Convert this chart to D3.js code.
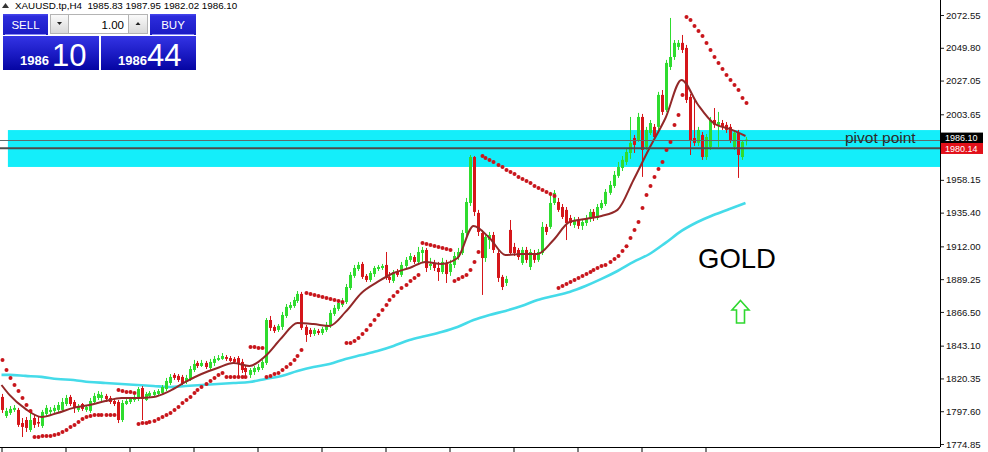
<!DOCTYPE html>
<html><head><meta charset="utf-8">
<script src="https://cdn.jsdelivr.net/npm/d3@7"></script>
<style>html,body{margin:0;padding:0;background:#fff;}svg{display:block;}</style>
</head><body>
<svg id="c" width="988" height="452"></svg>
<script>
// ---------- DATA ----------
const symbolTitle = "XAUUSD.tp,H4";
const lastOHLC = [1985.83, 1987.95, 1982.02, 1986.10];
const opens = [1807.5,1794.3,1796.4,1798.5,1798.5,1789.4,1791.5,1784.6,1792.9,1790.1,
1787.4,1795.7,1797.1,1797.8,1798.5,1798.5,1802.6,1807.5,1804.0,1798.5,
1802.6,1798.5,1797.8,1804.0,1806.8,1806.8,1808.2,1806.8,1804.7,1804.0,
1791.5,1802.6,1804.0,1805.4,1806.1,1813.7,1805.4,1808.2,1808.9,1809.6,
1810.3,1813.0,1817.2,1822.8,1822.1,1821.4,1817.9,1820.0,1826.2,1831.1,
1829.0,1831.1,1827.6,1831.1,1833.2,1833.9,1835.2,1834.5,1833.9,1834.5,
1831.8,1827.6,1822.8,1824.8,1826.2,1827.6,1831.1,1860.9,1856.1,1854.0,
1856.1,1863.7,1869.3,1870.6,1874.1,1879.0,1856.1,1854.0,1851.2,1853.3,
1851.9,1854.0,1856.8,1865.1,1868.6,1871.3,1873.4,1883.1,1891.5,1896.3,
1899.8,1891.5,1888.7,1892.8,1896.3,1897.0,1899.1,1890.8,1888.0,1894.2,
1892.2,1898.4,1902.6,1904.6,1901.2,1907.4,1909.5,1898.4,1899.8,1897.0,
1894.2,1900.5,1894.2,1899.1,1904.6,1907.4,1921.3,1942.1,1974.0,1935.2,
1921.3,1903.9,1916.4,1919.9,1907.4,1890.8,1886.6,1923.4,1911.6,1909.5,
1900.5,1909.5,1897.7,1907.4,1902.6,1907.4,1925.5,1925.5,1942.1,1942.8,
1939.3,1937.3,1931.7,1926.9,1930.3,1926.2,1928.2,1931.0,1935.9,1931.7,
1938.6,1941.4,1949.1,1953.9,1960.9,1966.4,1970.6,1976.8,1987.2,1985.8,
2001.8,1981.0,1990.7,1994.9,1994.9,2017.1,2006.7,2036.5,2043.4,2050.4,
2053.2,2049.7,2015.7,1987.2,1983.8,1989.3,1974.0,1981.0,1999.7,1996.3,
1997.6,1996.3,1994.9,1981.0,1990.7,1974.0,1985.83];
const highs = [1809.6,1799.9,1801.2,1801.9,1799.9,1792.9,1793.6,1797.1,1795.0,1794.3,
1798.5,1801.9,1800.5,1801.9,1804.0,1806.8,1808.9,1808.9,1805.4,1802.6,
1803.3,1801.9,1806.8,1810.3,1811.6,1811.0,1809.6,1808.2,1806.1,1805.4,
1805.4,1806.8,1807.5,1808.9,1814.4,1815.1,1811.0,1811.6,1812.3,1813.0,
1815.8,1820.7,1823.4,1824.1,1823.4,1822.8,1822.8,1829.0,1833.2,1832.5,
1833.2,1832.5,1833.9,1835.9,1836.6,1838.0,1836.6,1835.9,1835.2,1835.9,
1833.9,1829.0,1827.6,1829.0,1830.4,1833.2,1862.3,1863.7,1857.5,1858.1,
1866.5,1872.0,1873.4,1876.9,1881.0,1880.4,1857.5,1855.4,1855.4,1854.7,
1856.1,1859.5,1867.9,1871.3,1874.8,1876.2,1885.9,1894.2,1899.1,1901.2,
1901.2,1892.8,1894.9,1898.4,1899.1,1899.8,1908.1,1894.2,1895.6,1896.3,
1901.2,1904.6,1907.4,1906.0,1911.6,1911.6,1910.9,1904.0,1902.6,1901.2,
1904.0,1902.6,1902.6,1908.1,1910.9,1923.4,1945.6,1975.4,1974.7,1937.3,
1923.4,1920.6,1922.0,1922.0,1909.5,1892.2,1891.5,1930.3,1914.4,1910.9,
1911.6,1911.6,1910.2,1909.5,1910.2,1928.9,1927.5,1949.8,1951.1,1945.6,
1941.4,1939.3,1933.8,1932.4,1932.4,1931.0,1933.8,1937.9,1937.9,1941.4,
1944.2,1951.8,1957.4,1964.3,1970.6,1974.7,1980.3,2001.8,1989.3,2004.6,
2003.9,1994.9,1999.7,1996.9,2019.2,2020.5,2041.4,2070.5,2055.2,2055.2,
2058.7,2051.8,2017.8,2013.6,1994.9,1991.4,1990.0,2001.8,2008.0,2005.3,
1999.7,1998.3,1996.9,1992.8,1992.8,1985.8,1987.95];
const lows = [1796.4,1792.9,1795.0,1797.1,1786.7,1779.7,1783.2,1783.2,1786.0,1786.7,
1786.0,1794.3,1795.0,1796.4,1797.1,1797.8,1801.2,1801.2,1796.4,1797.1,
1797.8,1797.1,1796.4,1802.6,1805.4,1804.7,1804.0,1802.6,1801.2,1789.4,
1790.1,1801.9,1802.6,1804.0,1804.7,1791.5,1804.7,1806.8,1807.5,1808.2,
1808.9,1811.6,1815.8,1819.3,1817.9,1815.8,1816.5,1818.6,1824.8,1827.6,
1828.3,1826.9,1826.2,1829.0,1832.5,1833.2,1832.5,1831.8,1831.1,1820.7,
1824.1,1822.1,1820.7,1822.8,1824.8,1826.2,1829.7,1853.3,1851.9,1852.6,
1854.0,1862.3,1867.9,1869.3,1872.7,1854.0,1845.7,1849.1,1849.8,1850.5,
1850.5,1852.6,1855.4,1863.7,1867.2,1869.9,1872.0,1881.7,1890.1,1894.9,
1889.4,1887.3,1887.3,1890.8,1894.9,1895.6,1888.7,1886.6,1886.6,1890.8,
1890.8,1897.0,1901.2,1899.8,1899.8,1901.2,1894.2,1895.6,1894.9,1888.0,
1892.8,1886.6,1891.5,1897.0,1902.6,1906.0,1919.2,1940.0,1933.1,1919.2,
1878.3,1901.2,1910.2,1907.4,1887.3,1881.7,1884.5,1906.0,1905.3,1902.6,
1899.1,1900.5,1895.6,1900.5,1901.2,1906.0,1919.9,1924.1,1940.7,1935.9,
1931.0,1916.4,1926.2,1924.8,1924.1,1923.4,1926.2,1928.9,1929.6,1930.3,
1937.3,1940.0,1947.7,1952.5,1959.5,1964.3,1968.5,1972.7,1976.8,1984.5,
1960.2,1978.9,1989.3,1985.8,1992.8,2003.2,2005.3,2034.4,2041.4,2048.3,
2046.2,2011.5,1975.4,1981.7,1981.7,1972.0,1972.0,1978.9,1994.2,1981.0,
1992.8,1990.7,1983.8,1978.9,1959.5,1972.0,1982.02];
const closes = [1798.5,1797.8,1799.2,1799.9,1788.1,1786.7,1786.0,1791.5,1788.1,1789.4,
1797.1,1799.9,1798.5,1799.9,1801.9,1804.0,1806.8,1802.6,1799.9,1801.2,
1799.2,1800.5,1804.7,1808.2,1809.6,1808.9,1806.1,1804.0,1802.6,1791.5,
1803.3,1804.7,1806.1,1807.5,1813.0,1806.1,1809.6,1810.3,1811.0,1811.6,
1814.4,1818.6,1821.4,1820.7,1819.3,1817.2,1820.7,1826.9,1830.4,1829.0,
1831.1,1828.3,1831.8,1833.9,1834.5,1835.9,1833.9,1832.5,1831.8,1830.4,
1826.2,1824.8,1826.2,1827.6,1828.3,1831.8,1860.9,1855.4,1853.3,1856.8,
1864.4,1870.0,1871.3,1874.8,1879.0,1855.4,1850.5,1851.2,1854.0,1851.9,
1854.7,1857.5,1865.8,1869.3,1872.7,1874.1,1883.8,1892.2,1897.0,1899.1,
1890.8,1888.7,1893.5,1897.0,1897.7,1898.4,1890.1,1888.7,1894.2,1892.2,
1899.1,1902.6,1905.3,1901.2,1908.1,1909.5,1897.0,1899.8,1897.0,1894.2,
1901.2,1892.8,1899.8,1905.3,1908.1,1921.3,1942.8,1974.0,1935.9,1922.0,
1903.9,1918.5,1919.9,1909.5,1890.1,1883.8,1889.4,1907.4,1907.4,1904.6,
1909.5,1902.6,1908.1,1902.6,1908.1,1925.5,1922.0,1942.1,1949.1,1937.3,
1932.4,1928.2,1928.2,1930.3,1926.2,1928.9,1931.7,1935.9,1931.7,1939.3,
1942.1,1949.8,1954.6,1961.6,1967.1,1972.0,1977.5,1983.8,1982.4,2001.8,
1978.9,1992.8,1997.6,1987.9,2017.1,2005.3,2039.3,2043.4,2053.2,2053.2,
2048.3,2013.6,1985.8,1983.8,1992.8,1974.0,1987.9,1999.7,1996.3,1998.3,
1994.9,1992.8,1985.8,1990.7,1975.4,1984.5,1986.10];
// Parabolic SAR, one value per bar
const sar = [1833.2,1826.2,1820.7,1815.8,1811.6,1806.8,1801.9,1797.8,
1779.7,1779.7,1780.4,1780.4,1780.4,1781.1,1781.8,1783.2,1784.6,1786.7,1788.1,1790.1,1792.2,1793.6,1794.3,1795.0,1795.0,1795.0,1795.0,1795.0,1795.0,
1812.3,1811.6,1810.9,1810.9,1810.3,
1788.7,1789.4,1789.4,1790.1,1790.8,1792.2,1793.6,1795.0,1796.4,1798.5,1800.5,1803.3,1805.4,1807.5,1810.3,1812.3,1814.4,1816.5,1818.6,1820.7,1822.8,1824.1,
1821.4,1821.4,1821.4,1821.4,1821.4,1821.4,
1842.2,1842.2,1841.5,1841.5,
1821.4,1822.1,1823.4,1824.1,1826.2,1828.3,1830.4,1833.2,1835.9,1840.1,
1879.7,1879.0,1878.3,1877.6,1876.9,1876.2,1875.5,1874.8,1874.1,1873.4,
1845.0,1845.0,1846.3,1848.4,1851.2,1854.0,1857.5,1860.9,1864.4,1867.9,1871.3,1874.8,1877.6,1880.4,1883.1,1885.2,1888.0,1890.1,1892.2,
1914.4,1913.7,1913.0,1912.3,1911.6,1910.9,1910.2,1909.5,
1888.0,1889.4,1890.8,1892.2,1895.6,1901.2,1908.1,
1974.7,1973.3,1972.0,1970.6,1968.5,1967.1,1965.0,1963.6,1962.2,1960.2,1958.8,1957.4,1956.0,1953.9,1952.5,1951.1,1949.8,1948.4,1947.0,
1883.1,1884.5,1885.9,1887.3,1888.7,1890.1,1891.5,1892.8,1894.2,1895.6,1897.0,1898.4,1899.1,1901.2,1903.3,1905.3,1908.8,1912.0,1917.8,1923.4,1928.9,1938.6,1947.7,1953.9,1960.2,1965.7,1970.6,1978.9,1984.5,1996.3,2003.2,2017.1,
2071.2,2069.1,2065.0,2061.5,2058.0,2053.2,2048.3,2043.4,2039.3,2035.1,2031.0,2027.5,2024.0,2020.5,2015.0,2011.5];
// moving averages sampled at these bars
const maBars = [0,2,6,10,14,18,22,26,30,34,38,42,46,50,54,58,62,66,70,74,78,82,86,90,94,98,102,106,110,114,118,122,126,130,134,138,142,146,150,154,158,162,166,170,174,178,182,186];
const maFast = [1815.8,1808.9,1799.2,1793.6,1796.4,1799.9,1801.9,1804.7,1806.8,1806.8,1807.5,1811.6,1817.9,1823.4,1827.6,1831.1,1829.0,1835.9,1848.4,1858.8,1858.1,1856.8,1866.5,1879.7,1887.3,1893.5,1897.0,1901.2,1899.8,1903.9,1926.2,1917.8,1906.0,1906.7,1906.7,1916.4,1928.9,1931.0,1933.1,1937.3,1958.1,1980.3,2001.1,2027.5,2010.8,1997.6,1993.5,1988.6];
const maSlow = [1822.8,1822.8,1822.1,1821.4,1820.0,1819.3,1817.9,1817.2,1816.5,1815.8,1815.1,1814.4,1815.1,1815.8,1816.5,1817.2,1817.9,1820.0,1822.1,1825.5,1828.3,1830.4,1833.9,1836.6,1839.4,1842.9,1847.0,1849.8,1852.6,1856.1,1860.9,1864.4,1867.2,1870.6,1874.8,1877.6,1880.4,1884.5,1889.4,1894.9,1901.2,1906.7,1914.4,1922.7,1928.9,1933.8,1937.9,1942.1];
const priceTicks = [2072.55,2049.80,2027.05,2003.65,1958.15,1935.40,1912.00,1889.25,1866.50,1843.10,1820.35,1797.60,1774.85];
const timeTickBars = [0,16,32,48,64,80,96,112,128,144,160,176];
const pivotPrice = 1980.14;
const bidPrice = 1986.10;
const zoneTop = 1992.7, zoneBottom = 1967.1, zoneStartBar = 1.6;
const sellPrice = ["1986","10"], buyPrice = ["1986","44"], lotSize = "1.00";

// ---------- SCALES ----------
const svg = d3.select('#c');
const PR = 940, PB = 447;
const ff = 'Liberation Sans, Arial, sans-serif';
const x = d3.scaleLinear().domain([0, opens.length - 1]).range([1.5, 745.5]);
const y = d3.scaleLinear().domain([1774.85, 2072.55]).range([444, 15]);
const defs = svg.append('defs');
defs.append('clipPath').attr('id','plot').append('rect').attr('x',0).attr('y',0).attr('width',PR).attr('height',PB);
function grad(id, stops){const g=defs.append('linearGradient').attr('id',id).attr('x1',0).attr('y1',0).attr('x2',0).attr('y2',1);stops.forEach(([o,c])=>g.append('stop').attr('offset',o).attr('stop-color',c));}
grad('btnBlue',[[0,'#4848ee'],[0.12,'#2c2cdc'],[1,'#1a1ac4']]);
grad('boxBlue',[[0,'#3434e4'],[0.5,'#1c1cc6'],[1,'#0505a2']]);
grad('greyBtn',[[0,'#fbfbfb'],[1,'#d8d8d8']]);

const plot = svg.append('g').attr('clip-path','url(#plot)');
// zone
plot.append('rect').attr('x', x(zoneStartBar)).attr('y', y(zoneTop))
  .attr('width', PR - x(zoneStartBar)).attr('height', y(zoneBottom) - y(zoneTop)).attr('fill','#14eefa');

// slow moving average
const bars = opens.map((o,i)=>({i,o,h:highs[i],l:lows[i],c:closes[i],s:sar[i]}));
const maLine = d3.line().x((d,k)=>x(maBars[k])).y(d=>y(d)).curve(d3.curveMonotoneX);
plot.append('path').attr('d', maLine(maSlow)).attr('fill','none').attr('stroke','#45dbe9').attr('stroke-width',2.6);

// candles
const cg = plot.append('g');
bars.forEach(d=>{
  const cx = Math.round(x(d.i));
  const up = d.c >= d.o;
  const col = up ? '#2fdc2f' : '#d5161a';
  cg.append('rect').attr('x',cx).attr('width',1).attr('y',y(d.h)).attr('height',Math.max(1,y(d.l)-y(d.h))).attr('fill',col);
  const top = y(Math.max(d.o,d.c)), bot = y(Math.min(d.o,d.c));
  cg.append('rect').attr('x',cx-1).attr('width',3).attr('y',top).attr('height',Math.max(1.5,bot-top)).attr('fill',col);
});
// fast moving average
plot.append('path').attr('d', maLine(maFast)).attr('fill','none').attr('stroke','#922828').attr('stroke-width',2);

// horizontal lines
plot.append('line').attr('x1',0).attr('x2',PR).attr('y1',Math.round(y(bidPrice))+0.5).attr('y2',Math.round(y(bidPrice))+0.5).attr('stroke','#5f6b6b').attr('stroke-width',1);
plot.append('line').attr('x1',0).attr('x2',PR).attr('y1',y(pivotPrice)).attr('y2',y(pivotPrice)).attr('stroke','#4c4c4c').attr('stroke-width',2);

// SAR
plot.append('g').selectAll('circle').data(bars).join('circle')
  .attr('cx',d=>Math.round(x(d.i))+0.5).attr('cy',d=>y(d.s)).attr('r',2).attr('fill','#c8161c');

// text objects
plot.append('text').attr('x',845).attr('y',143).text('pivot point')
  .attr('font-family',ff).attr('font-size',15.5).attr('fill','#2a2a2a');
plot.append('text').attr('x',698).attr('y',268).text('GOLD')
  .attr('font-family',ff).attr('font-size',27.5).attr('fill','#000');
plot.append('path').attr('d','M740.5,300.5 L749,310 L744.5,310 L744.5,323 L736.5,323 L736.5,310 L732,310 Z')
  .attr('fill','#fff').attr('stroke','#2fd82f').attr('stroke-width',1.6);

// ---------- AXES ----------
const yAxis = d3.axisRight(y).tickValues(priceTicks).tickFormat(d3.format('.2f')).tickSize(4).tickPadding(2);
const ya = svg.append('g').attr('transform',`translate(${PR},0)`).call(yAxis);
ya.select('.domain').remove();
ya.selectAll('text').attr('font-family',ff).attr('font-size',9.6).attr('fill','#111');
ya.selectAll('line').attr('stroke','#222');
svg.append('line').attr('x1',PR+0.5).attr('x2',PR+0.5).attr('y1',0).attr('y2',PB).attr('stroke','#000');

const xAxis = d3.axisBottom(x).tickValues(timeTickBars).tickFormat('').tickSize(5);
const xa = svg.append('g').attr('transform',`translate(0,${PB})`).call(xAxis);
xa.select('.domain').remove();
xa.selectAll('line').attr('stroke','#000');
svg.append('line').attr('x1',0).attr('x2',PR).attr('y1',PB+0.5).attr('y2',PB+0.5).attr('stroke','#000');

// price labels (bid label partly covered by the pivot label, as in the terminal)
function priceLabel(p, bg, cy){
  svg.append('rect').attr('x',PR+1).attr('y',cy-5.5).attr('width',42).attr('height',11).attr('fill',bg);
  svg.append('text').attr('x',PR+5).attr('y',cy+3.2).text(d3.format('.2f')(p))
    .attr('font-family',ff).attr('font-size',9).attr('fill','#fff');
}
priceLabel(bidPrice,'#000', y(bidPrice)-1.5);
priceLabel(pivotPrice,'#e2101a', y(pivotPrice)+0.3);

// ---------- TITLE ----------
svg.append('path').attr('d','M2,8 L5.5,3 L9,8 Z').attr('fill','#333');
svg.append('text').attr('x',15).attr('y',9).style('white-space','pre')
  .text(symbolTitle + '  ' + lastOHLC.map(d3.format('.2f')).join(' '))
  .attr('font-family',ff).attr('font-size',9.8).attr('fill','#000');

// ---------- ONE CLICK PANEL ----------
const pn = svg.append('g');
pn.append('rect').attr('x',3).attr('y',14).attr('width',45).attr('height',21).attr('fill','url(#btnBlue)');
pn.append('rect').attr('x',150).attr('y',14).attr('width',46).attr('height',21).attr('fill','url(#btnBlue)');
pn.append('line').attr('x1',5).attr('x2',46).attr('y1',34.5).attr('y2',34.5).attr('stroke','#8a8af5');
pn.append('line').attr('x1',152).attr('x2',194).attr('y1',34.5).attr('y2',34.5).attr('stroke','#8a8af5');
pn.append('text').attr('x',25.5).attr('y',29).attr('text-anchor','middle').text('SELL').attr('font-family',ff).attr('font-size',11.5).attr('fill','#fff');
pn.append('text').attr('x',173).attr('y',29).attr('text-anchor','middle').text('BUY').attr('font-family',ff).attr('font-size',11.5).attr('fill','#fff');
pn.append('rect').attr('x',50.5).attr('y',14.5).attr('width',18).attr('height',19).attr('fill','url(#greyBtn)').attr('stroke','#b4b4b4');
pn.append('rect').attr('x',68.5).attr('y',14.5).attr('width',60).attr('height',19).attr('fill','#fff').attr('stroke','#b4b4b4');
pn.append('rect').attr('x',128.5).attr('y',14.5).attr('width',19).attr('height',19).attr('fill','url(#greyBtn)').attr('stroke','#b4b4b4');
pn.append('path').attr('d','M57,22 L62,22 L59.5,25 Z').attr('fill','#222');
pn.append('path').attr('d','M135.5,25 L140.5,25 L138,22 Z').attr('fill','#222');
pn.append('text').attr('x',124).attr('y',28.5).attr('text-anchor','end').text(lotSize).attr('font-family',ff).attr('font-size',11.5).attr('fill','#000');
pn.append('rect').attr('x',3).attr('y',36).attr('width',96).attr('height',34).attr('fill','url(#boxBlue)');
pn.append('rect').attr('x',101).attr('y',36).attr('width',95).attr('height',34).attr('fill','url(#boxBlue)');
pn.append('text').attr('x',20).attr('y',65).text(sellPrice[0]).attr('font-family',ff).attr('font-weight','bold').attr('font-size',13).attr('fill','#fff');
pn.append('text').attr('x',52).attr('y',65.5).text(sellPrice[1]).attr('font-family',ff).attr('font-size',31).attr('fill','#fff');
pn.append('text').attr('x',118).attr('y',65).text(buyPrice[0]).attr('font-family',ff).attr('font-weight','bold').attr('font-size',13).attr('fill','#fff');
pn.append('text').attr('x',147).attr('y',65.5).text(buyPrice[1]).attr('font-family',ff).attr('font-size',31).attr('fill','#fff');
</script>
</body></html>
